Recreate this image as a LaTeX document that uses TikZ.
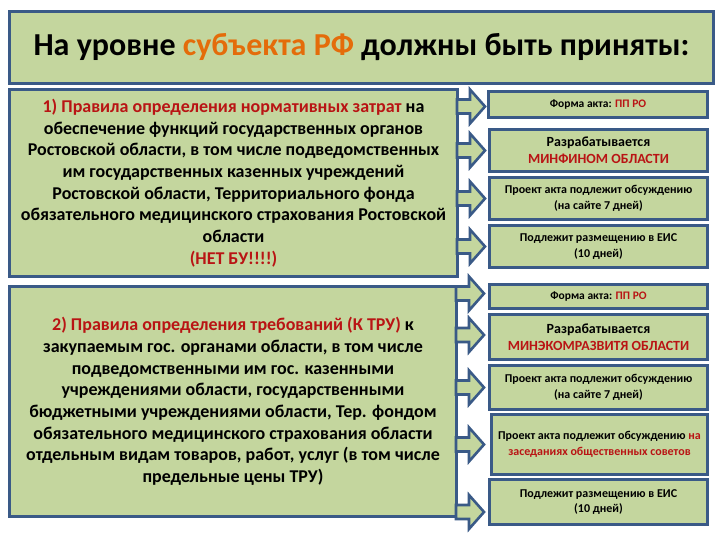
\documentclass[tikz,border=0pt]{standalone}
\usepackage{fontspec}
\setmainfont{Carlito}
\definecolor{boxgreen}{RGB}{196,214,158}
\definecolor{boxblue}{RGB}{58,90,135}
\definecolor{darkred}{RGB}{185,20,20}
\definecolor{titleorange}{RGB}{228,108,10}
\tikzset{
  gbox/.style={draw=boxblue, fill=boxgreen, line width=3pt, rectangle, inner sep=2pt, align=center, anchor=north west},
  arrowline/.style={draw=boxblue, fill=boxgreen, line width=2.6pt, line join=miter},
  bigtext/.style={font=\fontsize{18}{21.7}\selectfont\bfseries},
  smalltext/.style={font=\fontsize{12}{15.5}\selectfont\bfseries},
  formtext/.style={font=\fontsize{11.5}{13}\selectfont\bfseries},
  devtext/.style={font=\fontsize{14}{17}\selectfont\bfseries},
  pics/barrow/.style={code={\draw[arrowline] (0,-7)--(13,-7)--(13,-17)--(28,0)--(13,17)--(13,7)--(0,7)--cycle;}}
}
\begin{document}
\begin{tikzpicture}[x=1pt,y=-1pt]
\useasboundingbox[fill=white] (0,0) rectangle (720,540);

% title
\node[gbox, minimum width=704pt, minimum height=72pt, font=\fontsize{32}{36}\selectfont\bfseries] (title) at (8,10)
  {На уровне \textcolor{titleorange}{субъекта РФ} должны быть приняты:};

% left boxes
\node[gbox, bigtext, minimum width=448pt, minimum height=187pt] (b1) at (8,88)
  {\textcolor{darkred}{1) Правила определения нормативных затрат} на\\
   обеспечение функций государственных органов\\
   Ростовской области, в том числе подведомственных\\
   им государственных казенных учреждений\\
   Ростовской области, Территориального фонда\\
   обязательного медицинского страхования Ростовской\\
   области\\
   \textcolor{darkred}{(НЕТ БУ!!!!)}};

\node[gbox, bigtext, minimum width=447pt, minimum height=230pt] (b2) at (8,285)
  {\textcolor{darkred}{2) Правила определения требований (К ТРУ)} к\\
   закупаемым гос. органами области, в том числе\\
   подведомственными им гос. казенными\\
   учреждениями области, государственными\\
   бюджетными учреждениями области, Тер. фондом\\
   обязательного медицинского страхования области\\
   отдельным видам товаров, работ, услуг (в том числе\\
   предельные цены ТРУ)};

% right boxes, top group
\node[gbox, formtext, minimum width=219pt, minimum height=26pt] (r1) at (487,90)
  {Форма акта: \textcolor{darkred}{ПП РО}};
\node[gbox, devtext, minimum width=218pt, minimum height=42pt] (r2) at (488,128)
  {Разрабатывается\\ \textcolor{darkred}{МИНФИНОМ ОБЛАСТИ}};
\node[gbox, smalltext, minimum width=218pt, minimum height=42pt] (r3) at (488,176)
  {Проект акта подлежит обсуждению\\(на сайте 7 дней)};
\node[gbox, smalltext, minimum width=218pt, minimum height=42pt] (r4) at (488,224)
  {Подлежит размещению в ЕИС\\(10 дней)};

% right boxes, bottom group
\node[gbox, formtext, minimum width=218pt, minimum height=24pt] (r5) at (488,283)
  {Форма акта: \textcolor{darkred}{ПП РО}};
\node[gbox, devtext, minimum width=218pt, minimum height=45pt] (r6) at (488,313)
  {Разрабатывается\\ \textcolor{darkred}{МИНЭКОМРАЗВИТЯ ОБЛАСТИ}};
\node[gbox, smalltext, minimum width=218pt, minimum height=44pt] (r7) at (488,364)
  {Проект акта подлежит обсуждению\\(на сайте 7 дней)};
\node[gbox, smalltext, minimum width=216pt, minimum height=60pt] (r8) at (490,413)
  {Проект акта подлежит обсуждению \textcolor{darkred}{на}\\\textcolor{darkred}{заседаниях общественных советов}};
\node[gbox, smalltext, minimum width=218pt, minimum height=45pt] (r9) at (488,478)
  {Подлежит размещению в ЕИС\\(10 дней)};

% block arrows
\coordinate (a1) at ([yshift=-2pt]b1.east |- r1.center);
\coordinate (a2) at (b1.east |- r2.center);
\coordinate (a3) at (b1.east |- r3.center);
\coordinate (a4) at (b1.east |- r4.center);
\coordinate (a5) at ([yshift=3pt]b2.east |- r5.center);
\coordinate (a6) at ([yshift=2pt]b2.east |- r6.center);
\coordinate (a7) at (b2.east |- r7.center);
\coordinate (a8) at (b2.east |- r8.center);
\coordinate (a9) at ([yshift=-10pt]b2.east |- r9.center);
\foreach \a in {a1,a2,a3,a4,a5,a6,a7,a8,a9}
  \path ([xshift=-2pt]\a) pic {barrow};
\end{tikzpicture}
\end{document}
